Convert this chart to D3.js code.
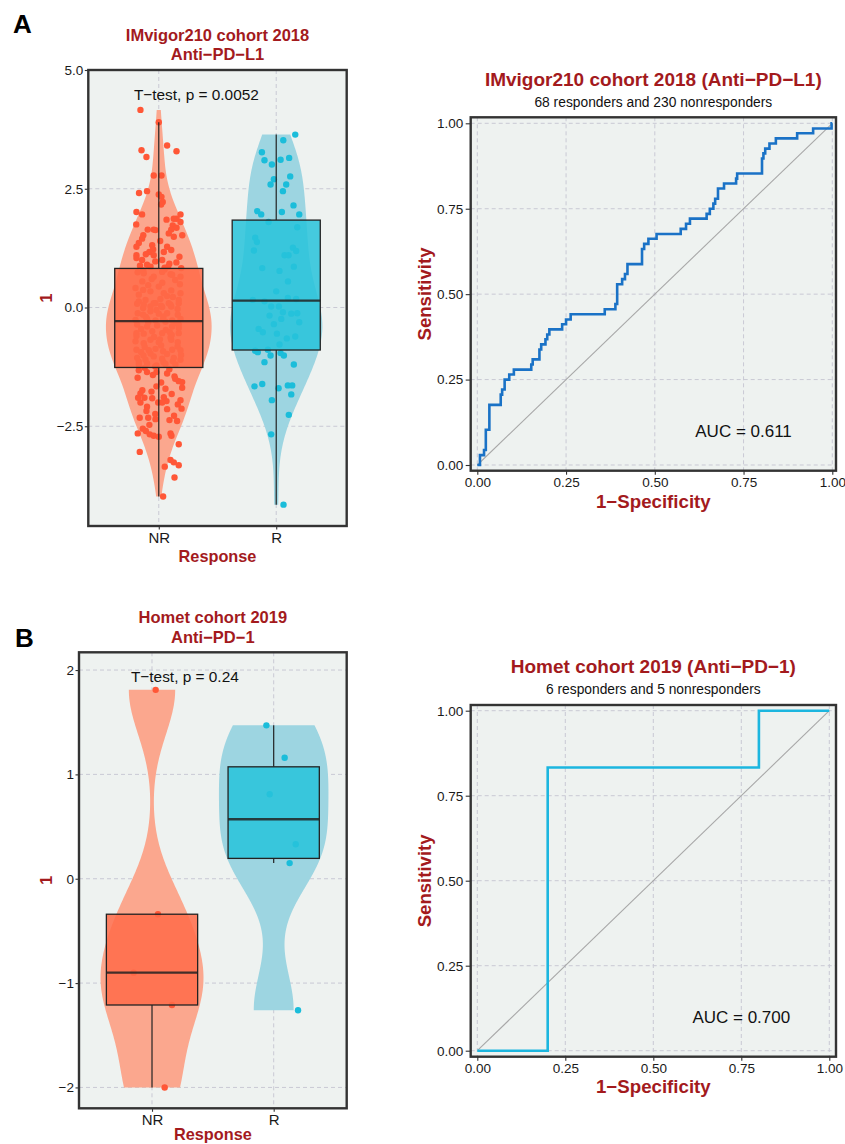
<!DOCTYPE html>
<html>
<head>
<meta charset="utf-8">
<script src="https://cdn.jsdelivr.net/npm/d3@7"></script>
<style>
  body { margin: 0; background: #fff; }
  svg text { font-family: "Liberation Sans", Arial, Helvetica, sans-serif; }
</style>
</head>
<body>
<div id="chart"></div>
<script>
// ---------- data ----------
const groups = ['NR', 'R'];
const rocTicks = [0, 0.25, 0.5, 0.75, 1];

// IMvigor210 cohort 2018, score per patient
const imvigorNR = [
  4.16, 3.90, 3.31, 3.17, 3.41, 3.29, 2.78, 2.78, 2.41, 2.45,
  2.38, 2.33, 2.22, 2.17, 2.01, 1.96, 1.96, 1.87, 1.87, 1.85,
  1.80, 1.75, 1.73, 1.68, 1.64, 1.64, 1.63, 1.64, 1.56, 1.52,
  1.52, 1.45, 1.49, 1.36, 1.31, 1.28, 1.22, 1.28, 1.17, 1.21,
  1.17, 1.10, 1.10, 1.07, 1.04, 1.00, 1.00, 0.90, 0.86, 0.83,
  0.86, 1.40, 1.12, 0.95, 0.97, 0.92, 0.88, 0.84,
  0.72, 0.65, 0.75, 0.69, 0.65, 0.41, 0.37, 0.34, 0.44, 0.30,
  0.36, 0.30, 0.13, 0.16, 0.09, 0.18, 0.09, 0.16, -0.01, 0.02,
  0.01, 0.02, 0.08, 0.06, 0.09, 0.04, 0.06, 0.09, -0.12, -0.15,
  -0.08, -0.13, -0.12, -0.15, -0.26, -0.24, -0.27, -0.24, -0.27, -0.24,
  0.78, 0.80, 0.74, 0.70, 0.60, 0.58, 0.55, 0.52, 0.49, 0.47,
  0.24, 0.27, 0.22, -0.05, -0.03, -0.20, -0.19,
  -0.36, -0.40, -0.38, -0.30, -0.40, -0.36, -0.54, -0.55, -0.50, -0.54,
  -0.52, -0.54, -0.71, -0.75, -0.68, -0.73, -0.68, -0.73, -0.89, -0.94,
  -0.90, -0.87, -0.92, -0.89, -0.90, -1.06, -1.10, -1.03, -1.08, -1.06,
  -1.10, -1.20, -1.18, -1.22, -1.19, -1.20,
  -0.45, -0.47, -0.43, -0.62, -0.63, -0.60, -0.80, -0.82, -0.83, -0.98,
  -0.97, -1.00, -1.14, -1.15, -1.13, -1.24, -0.33, -0.31, -0.58, -1.01, -0.67,
  -1.32, -1.36, -1.36, -1.39, -1.45, -1.55, -1.57, -1.66, -1.71, -1.69,
  -1.77, -1.81, -1.90, -1.90, -1.91, -1.89, -1.97, -1.95, -2.00, -2.00,
  -2.04, -2.09, -2.00, -2.13, -2.14, -2.18, -2.32, -2.32, -2.35, -2.37,
  -2.39, -2.47, -2.55, -2.65, -2.67, -2.70, -2.72, -2.65, -2.70, -2.88,
  -3.04, -3.21, -3.26, -3.32, -3.35, -3.58, -3.98,
  -1.27, -1.30, -1.42, -1.50, -1.48, -1.58, -1.74, -1.82, -2.24, -2.28, -2.60
];
// horizontal jitter of each NR dot, in category widths
const imvigorNRJitter = [
  -0.156, 0, -0.147, -0.105, 0.071, 0.151, -0.043, 0.023, -0.168, -0.10,
  0, 0.023, 0.034, 0.02, -0.19, -0.142, 0.185, 0.151, 0.128, 0.066,
  0.185, -0.192, 0.119, 0.151, -0.094, -0.043, -0.028, 0.106, 0.085, -0.132,
  0.20, -0.142, 0.128, -0.17, -0.056, -0.19, -0.048, 0.071, 0.043, 0.106,
  -0.08, -0.043, -0.19, 0.176, -0.19, -0.142, 0.029, -0.10, 0.08, 0.191,
  -0.07, 0.012, -0.11, 0.15, -0.03, 0.09, -0.16, 0.05,
  -0.128, -0.043, 0.029, 0.114, 0.185, -0.198, -0.133, -0.071, 0, 0.043,
  0.106, 0.185, -0.17, -0.113, -0.043, 0.014, 0.085, 0.17, -0.133, -0.071,
  0.029, 0.106, -0.184, -0.128, -0.028, 0.02, 0.10, 0.17, -0.179, -0.133,
  -0.071, 0, 0.071, 0.162, -0.198, -0.099, -0.028, 0.037, 0.114, 0.185,
  -0.132, 0.05, -0.18, 0.10, -0.06, 0.14, -0.14, 0.03, 0.18, -0.09,
  0.07, -0.17, 0.12, -0.02, 0.16, -0.11, 0.04,
  -0.184, -0.099, -0.014, 0.057, 0.114, 0.17, -0.19, -0.128, -0.056, 0.029,
  0.094, 0.17, -0.198, -0.128, -0.071, 0, 0.106, 0.162, -0.19, -0.15,
  -0.085, -0.028, 0.037, 0.114, 0.185, -0.184, -0.113, -0.043, 0.029, 0.128,
  0.185, -0.17, -0.099, -0.02, 0.057, 0.142,
  -0.15, 0.06, 0.17, -0.04, 0.10, -0.19, 0.02, 0.16, -0.12, 0.07,
  -0.07, 0.19, -0.17, 0.04, 0.12, -0.03, 0.15, -0.09, 0.11, -0.13, 0.01,
  -0.17, -0.10, -0.02, 0.071, 0.134, 0.17, 0.199, -0.02, 0.057, 0.199,
  -0.062, -0.156, -0.176, -0.122, -0.056, 0.043, 0.066, 0.185, -0.156, -0.005,
  0.162, -0.10, 0.029, 0.194, 0.071, -0.105, -0.162, -0.09, -0.028, 0.091,
  0.156, -0.08, -0.136, -0.179, -0.077, -0.043, 0, 0.10, 0.108, 0.17,
  -0.162, 0.10, 0.128, 0.17, 0.051, 0.134, 0.037,
  -0.12, 0.09, -0.05, 0.14, -0.18, 0.02, -0.14, 0.11, -0.03, 0.13, -0.11
];
const imvigorR = [
  3.64, 3.52, 3.27, 3.10, 3.01, 3.11, 3.15, 2.70, 2.59, 2.59,
  2.76, 2.45, 2.15, 2.03, 1.96, 2.01, 1.96, 1.80, 1.69, 1.47,
  1.38, 1.20, 1.26, 1.19, 1.10, 1.10, 0.83, 0.77, 0.86, 0.34,
  0.16, 0.13, 0.20, 0.18, 0.02, 0.02, -0.10, -0.13, -0.12, -0.17,
  -0.24, -0.31, -0.52, -0.55, -0.61, -0.78, -0.91, -0.94, -0.89, -1.01,
  -0.96, -1.01, -1.15, -1.20, -1.66, -1.61, -1.70, -1.64, -1.64, -1.83,
  -1.95, -2.26, -2.67, -4.15, 0.55, -0.45, -0.65, -0.35
];
const imvigorRJitter = [
  0.162, 0.06, -0.122, -0.10, -0.037, 0.037, 0.11, -0.02, -0.048, 0.085,
  0.119, 0.057, 0.147, -0.162, -0.128, 0.048, 0.196, -0.065, 0.179, -0.179,
  -0.165, -0.19, 0.142, 0.17, 0.071, 0.105, -0.119, 0.028, 0.15, 0,
  -0.199, -0.10, 0.099, 0.17, -0.043, 0.023, 0.057, 0.128, 0.179, -0.057,
  0.043, 0.196, -0.114, 0.006, 0.162, 0.028, -0.179, -0.157, -0.071, -0.048,
  0.037, 0.065, -0.10, 0.15, -0.185, -0.119, 0.02, 0.099, 0.136, 0.128,
  -0.037, 0.107, -0.043, 0.062, 0.10, -0.15, 0.09, -0.02
];
const imvigorTicks = [-2.5, 0, 2.5, 5];
const imvigorP = 'T\u2212test, p = 0.0052';
// ROC corners (1 - specificity, sensitivity)
const imvigorFpr = [
  0, 0.0075, 0.019, 0.024, 0.034, 0.066, 0.070, 0.077, 0.090, 0.103,
  0.152, 0.156, 0.175, 0.180, 0.192, 0.197, 0.203, 0.239, 0.250, 0.263,
  0.359, 0.389, 0.394, 0.408, 0.416, 0.423, 0.464, 0.470, 0.482, 0.505,
  0.573, 0.588, 0.599, 0.646, 0.655, 0.665, 0.670, 0.678, 0.695, 0.729,
  0.732, 0.802, 0.806, 0.811, 0.823, 0.841, 0.901, 0.946, 0.998, 1
];
const imvigorTpr = [
  0, 0.029, 0.044, 0.103, 0.176, 0.206, 0.221, 0.250, 0.265, 0.279,
  0.294, 0.309, 0.338, 0.353, 0.368, 0.382, 0.397, 0.412, 0.426, 0.441,
  0.456, 0.471, 0.529, 0.544, 0.559, 0.588, 0.632, 0.647, 0.662, 0.676,
  0.691, 0.706, 0.721, 0.735, 0.750, 0.765, 0.779, 0.809, 0.824, 0.838,
  0.853, 0.897, 0.912, 0.926, 0.941, 0.956, 0.971, 0.985, 1, 1
];
const imvigorAuc = 0.611;

// Homet cohort 2019
const hometNR = [1.81, -0.34, -0.90, -1.21, -2.00];
const hometNRJitter = [0.03, 0.049, -0.151, 0.164, 0.104];
const hometR = [1.47, 1.16, 0.81, 0.33, 0.15, -1.26];
const hometRJitter = [-0.06, 0.09, -0.033, 0.181, 0.131, 0.2];
const hometTicks = [-2, -1, 0, 1, 2];
const hometP = 'T\u2212test, p = 0.24';
const hometFpr = [0, 0.2, 0.8, 1];
const hometTpr = [0, 0.833, 1, 1];
const hometAuc = 0.700;

// ---------- styles ----------
const W = 845, H = 1144;
const darkRed = '#A31A1D';
const panelBg = '#EEF2F0';
const gridColor = '#C9C9D4';
const groupColors = {
  NR: { point: '#FF5737', violin: '#FBA78E', box: '#FF6B49' },
  R: { point: '#1BBDDA', violin: '#9DD5E1', box: '#27C3DA' }
};

const svg = d3.select('#chart').append('svg')
  .attr('width', W).attr('height', H)
  .style('background', '#fff');

// gaussian kernel density, bw.nrd0, trimmed to data range (like geom_violin)
function kde(values) {
  const s = values.slice().sort(d3.ascending);
  const n = s.length;
  const sd = d3.deviation(s);
  const iqr = d3.quantile(s, 0.75) - d3.quantile(s, 0.25);
  const bw = 0.9 * Math.min(sd, iqr / 1.34) * Math.pow(n, -0.2);
  const lo = s[0], hi = s[n - 1];
  return d3.range(512).map(i => {
    const t = lo + (hi - lo) * i / 511;
    const d = d3.sum(s, v => Math.exp(-0.5 * ((t - v) / bw) ** 2)) / (n * bw * Math.sqrt(2 * Math.PI));
    return [t, d];
  });
}

function boxStats(values) {
  const s = values.slice().sort(d3.ascending);
  const q1 = d3.quantile(s, 0.25), med = d3.quantile(s, 0.5), q3 = d3.quantile(s, 0.75);
  const iqr = q3 - q1;
  const lo = d3.min(s.filter(v => v >= q1 - 1.5 * iqr));
  const hi = d3.max(s.filter(v => v <= q3 + 1.5 * iqr));
  return { q1, med, q3, lo, hi };
}

function styleAxis(g, size) {
  g.select('.domain').remove();
  g.selectAll('.tick line').attr('stroke', '#333').attr('stroke-width', 1.1);
  g.selectAll('.tick text').attr('fill', '#1a1a1a').style('font-size', size + 'px');
}

function dashed(sel) {
  return sel.attr('stroke', gridColor).attr('stroke-width', 1).attr('stroke-dasharray', '4,3');
}

function drawViolinPanel(o) {
  const x = d3.scalePoint().domain(groups).range([o.left, o.right]).padding(0.6);
  const step = x.step();
  const y = d3.scaleLinear().domain(o.domain).range([o.bottom, o.top]);
  const g = svg.append('g');

  g.append('rect')
    .attr('x', o.left).attr('y', o.top)
    .attr('width', o.right - o.left).attr('height', o.bottom - o.top)
    .attr('fill', panelBg);

  dashed(g.append('g').selectAll('line').data(o.ticks.filter(t => y(t) > o.top + 2)).enter().append('line')
    .attr('x1', o.left).attr('x2', o.right)
    .attr('y1', d => y(d)).attr('y2', d => y(d)));
  dashed(g.append('g').selectAll('line').data(groups).enter().append('line')
    .attr('x1', d => x(d)).attr('x2', d => x(d))
    .attr('y1', o.top).attr('y2', o.bottom));

  const sets = groups.map(k => ({ key: k, values: o.values[k], jitter: o.jitter[k] }));
  sets.forEach(s => { s.dens = kde(s.values); s.stats = boxStats(s.values); });
  // scale = "area": one common density scale for both violins
  const maxD = d3.max(sets, s => d3.max(s.dens, d => d[1]));
  const half = d3.scaleLinear().domain([0, maxD]).range([0, 0.45 * step]);

  g.append('g').selectAll('path').data(sets).enter().append('path')
    .attr('d', s => {
      const cx = x(s.key);
      return d3.area().y(d => y(d[0])).x0(d => cx - half(d[1])).x1(d => cx + half(d[1]))(s.dens);
    })
    .attr('fill', s => groupColors[s.key].violin);

  sets.forEach(s => {
    g.append('g').selectAll('circle').data(s.values).enter().append('circle')
      .attr('cx', (v, i) => x(s.key) + s.jitter[i] * step)
      .attr('cy', v => y(v))
      .attr('r', 3.2)
      .attr('fill', groupColors[s.key].point);
  });

  const bw = 0.75 * step;
  sets.forEach(s => {
    const cx = x(s.key), st = s.stats;
    const bg = g.append('g').attr('stroke', '#222');
    bg.append('line').attr('x1', cx).attr('x2', cx).attr('y1', y(st.hi)).attr('y2', y(st.q3)).attr('stroke-width', 1.2);
    bg.append('line').attr('x1', cx).attr('x2', cx).attr('y1', y(st.q1)).attr('y2', y(st.lo)).attr('stroke-width', 1.2);
    bg.append('rect')
      .attr('x', cx - bw / 2).attr('y', y(st.q3))
      .attr('width', bw).attr('height', y(st.q1) - y(st.q3))
      .attr('fill', groupColors[s.key].box).attr('fill-opacity', 0.85)
      .attr('stroke-width', 1.3);
    bg.append('line').attr('x1', cx - bw / 2).attr('x2', cx + bw / 2)
      .attr('y1', y(st.med)).attr('y2', y(st.med))
      .attr('stroke-width', 2.3).attr('stroke-opacity', 0.85);
  });

  g.append('rect')
    .attr('x', o.left).attr('y', o.top)
    .attr('width', o.right - o.left).attr('height', o.bottom - o.top)
    .attr('fill', 'none').attr('stroke', '#333').attr('stroke-width', 2.4);

  const ya = g.append('g').attr('transform', `translate(${o.left},0)`)
    .call(d3.axisLeft(y).tickValues(o.ticks).tickFormat(d3.format(o.tickFormat)).tickSize(3.5).tickPadding(1.5));
  styleAxis(ya, 13.5);
  const xa = g.append('g').attr('transform', `translate(0,${o.bottom})`)
    .call(d3.axisBottom(x).tickSize(3.5).tickPadding(2.5));
  styleAxis(xa, 15);

  const cx = (o.left + o.right) / 2;
  o.title.forEach((t, i) => {
    g.append('text').attr('x', cx).attr('y', o.titleY[i]).attr('text-anchor', 'middle')
      .attr('fill', darkRed).style('font-size', '16.5px').style('font-weight', 'bold').text(t);
  });
  g.append('text').attr('x', o.letterX).attr('y', o.letterY)
    .attr('fill', '#000').style('font-size', '26px').style('font-weight', 'bold').text(o.letter);
  g.append('text').attr('x', x('NR') + o.pShift * step).attr('y', o.pY).attr('text-anchor', 'middle')
    .attr('fill', '#111').style('font-size', '15.4px').text(o.pLabel);
  g.append('text').attr('transform', `translate(51.7,${(o.top + o.bottom) / 2}) rotate(-90)`)
    .attr('text-anchor', 'middle').attr('fill', darkRed)
    .style('font-size', '16px').style('font-weight', 'bold').text('1');
  g.append('text').attr('x', cx).attr('y', o.xTitleY).attr('text-anchor', 'middle')
    .attr('fill', darkRed).style('font-size', '16.3px').style('font-weight', 'bold').text('Response');
}

function drawRocPanel(o) {
  const x = d3.scaleLinear().domain([0, 1]).range([o.x0, o.x1]);
  const y = d3.scaleLinear().domain([0, 1]).range([o.y0, o.y1]);
  const g = svg.append('g');

  g.append('rect')
    .attr('x', o.left).attr('y', o.top)
    .attr('width', o.right - o.left).attr('height', o.bottom - o.top)
    .attr('fill', panelBg);

  dashed(g.append('g').selectAll('line').data(rocTicks).enter().append('line')
    .attr('x1', o.left).attr('x2', o.right).attr('y1', d => y(d)).attr('y2', d => y(d)));
  dashed(g.append('g').selectAll('line').data(rocTicks).enter().append('line')
    .attr('x1', d => x(d)).attr('x2', d => x(d)).attr('y1', o.top).attr('y2', o.bottom));

  g.append('line')
    .attr('x1', x(0)).attr('y1', y(0)).attr('x2', x(1)).attr('y2', y(1))
    .attr('stroke', '#A8A8A8').attr('stroke-width', 1.1);

  const pts = o.fpr.map((f, i) => [f, o.tpr[i]]);
  g.append('path')
    .datum(pts)
    .attr('d', d3.line().x(d => x(d[0])).y(d => y(d[1])).curve(d3.curveStepAfter))
    .attr('fill', 'none').attr('stroke', o.color).attr('stroke-width', 2.6);

  g.append('rect')
    .attr('x', o.left).attr('y', o.top)
    .attr('width', o.right - o.left).attr('height', o.bottom - o.top)
    .attr('fill', 'none').attr('stroke', '#333').attr('stroke-width', 2.4);

  const fmt = d3.format('.2f');
  const ya = g.append('g').attr('transform', `translate(${o.left},0)`)
    .call(d3.axisLeft(y).tickValues(rocTicks).tickFormat(fmt).tickSize(5).tickPadding(2.4));
  styleAxis(ya, 13.5);
  const xa = g.append('g').attr('transform', `translate(0,${o.bottom})`)
    .call(d3.axisBottom(x).tickValues(rocTicks).tickFormat(fmt).tickSize(4).tickPadding(3));
  styleAxis(xa, 13.5);

  const cx = (o.left + o.right) / 2;
  g.append('text').attr('x', cx).attr('y', o.titleY).attr('text-anchor', 'middle')
    .attr('fill', darkRed).style('font-size', '19px').style('font-weight', 'bold').text(o.title);
  g.append('text').attr('x', cx).attr('y', o.subtitleY).attr('text-anchor', 'middle')
    .attr('fill', '#111').style('font-size', '13.8px')
    .text(`${o.nR} responders and ${o.nNR} nonresponders`);
  g.append('text').attr('x', x(0.75)).attr('y', y(0.1)).attr('dy', '0.36em').attr('text-anchor', 'middle')
    .attr('fill', '#111').style('font-size', '17px').text('AUC = ' + d3.format('.3f')(o.auc));
  g.append('text').attr('x', cx).attr('y', o.xTitleY).attr('text-anchor', 'middle')
    .attr('fill', darkRed).style('font-size', '18.7px').style('font-weight', 'bold').text('1\u2212Specificity');
  g.append('text').attr('transform', `translate(431,${(o.top + o.bottom) / 2}) rotate(-90)`)
    .attr('text-anchor', 'middle').attr('fill', darkRed)
    .style('font-size', '18.6px').style('font-weight', 'bold').text('Sensitivity');
}

drawViolinPanel({
  left: 88.3, right: 346.7, top: 70, bottom: 526,
  domain: [-4.6, 5.0], ticks: imvigorTicks, tickFormat: '.1f',
  values: { NR: imvigorNR, R: imvigorR },
  jitter: { NR: imvigorNRJitter, R: imvigorRJitter },
  title: ['IMvigor210 cohort 2018', 'Anti\u2212PD\u2212L1'], titleY: [40.5, 60],
  letter: 'A', letterX: 13, letterY: 33.3,
  pLabel: imvigorP, pShift: 0.32, pY: 100,
  xTitleY: 562
});

drawRocPanel({
  left: 470.7, right: 836, top: 117.3, bottom: 470.7,
  x0: 477.3, x1: 832.3, y0: 465, y1: 123.3,
  fpr: imvigorFpr, tpr: imvigorTpr, color: '#1A72C6', auc: imvigorAuc,
  nR: imvigorR.length, nNR: imvigorNR.length,
  title: 'IMvigor210 cohort 2018 (Anti\u2212PD\u2212L1)', titleY: 86, subtitleY: 106.7,
  xTitleY: 508.3
});

drawViolinPanel({
  left: 79, right: 346.7, top: 652.3, bottom: 1108.3,
  domain: [-2.2, 2.17], ticks: hometTicks, tickFormat: 'd',
  values: { NR: hometNR, R: hometR },
  jitter: { NR: hometNRJitter, R: hometRJitter },
  title: ['Homet cohort 2019', 'Anti\u2212PD\u22121'], titleY: [623.3, 642.7],
  letter: 'B', letterX: 15, letterY: 647.3,
  pLabel: hometP, pShift: 0.27, pY: 681.7,
  xTitleY: 1140
});

drawRocPanel({
  left: 470.7, right: 836, top: 705, bottom: 1056.7,
  x0: 477.3, x1: 829.3, y0: 1050.7, y1: 710.7,
  fpr: hometFpr, tpr: hometTpr, color: '#1CB6DF', auc: hometAuc,
  nR: hometR.length, nNR: hometNR.length,
  title: 'Homet cohort 2019 (Anti\u2212PD\u22121)', titleY: 673.3, subtitleY: 694,
  xTitleY: 1093.3
});
</script>
</body>
</html>
